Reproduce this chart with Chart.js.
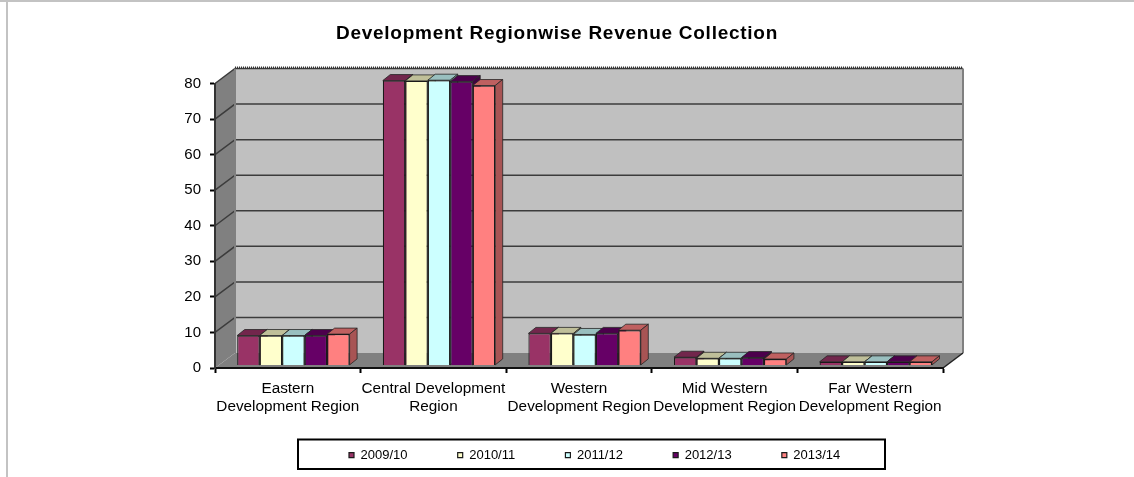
<!DOCTYPE html>
<html><head><meta charset="utf-8">
<style>
html,body{margin:0;padding:0;background:#fff;overflow:hidden}
#page{position:absolute;left:0;top:0;width:1134px;height:477px}
#rt{position:absolute;left:0;top:0;width:1134px;height:2px;background:#c3c3c3}
#rl{position:absolute;left:6px;top:0;width:2px;height:477px;background:#c3c3c3}
canvas{position:absolute;left:0;top:0}
</style>
<script src="https://cdn.jsdelivr.net/npm/chart.js@4"></script>
</head><body>
<div id="page"><div id="rt"></div><div id="rl"></div><canvas id="c" width="1134" height="477"></canvas></div>
<script>
const categories = [["Eastern","Development Region"],["Central Development","Region"],["Western","Development Region"],["Mid Western","Development Region"],["Far Western","Development Region"]];
const seriesNames = ["2009/10","2010/11","2011/12","2012/13","2013/14"];
const s2009 = [8.4,80.1,9.0,2.3,1.0];
const s2010 = [8.4,80.0,9.0,2.0,1.0];
const s2011 = [8.4,80.2,8.7,2.0,1.0];
const s2012 = [8.4,79.8,9.0,2.2,1.0];
const s2013 = [8.8,78.7,9.9,1.8,1.0];
const seriesValues = [s2009,s2010,s2011,s2012,s2013];
const colors = ["#993366","#FFFFCC","#CCFFFF","#660066","#FF8080"];
const yTicks = [0,10,20,30,40,50,60,70,80];

const FONT = "'Liberation Sans', Arial, sans-serif";
const WALL_DX = 20, WALL_DY = -15;   // depth of the 3-D box
const BAR_DX = 7.5, BAR_DY = -6;     // depth of each bar
const SHIFT_X = 5.6, SHIFT_Y = -2.6; // bars stand inside the floor
function shade(hex,f){const n=parseInt(hex.slice(1),16);return `rgb(${(n>>16&255)*f|0},${(n>>8&255)*f|0},${(n&255)*f|0})`;}
function poly(ctx,pts,fill,stroke,lw){ctx.beginPath();pts.forEach((p,i)=>i?ctx.lineTo(p[0],p[1]):ctx.moveTo(p[0],p[1]));ctx.closePath();
  if(fill){ctx.fillStyle=fill;ctx.fill();} if(stroke){ctx.strokeStyle=stroke;ctx.lineWidth=lw||1;ctx.stroke();}}

const box3d = {
  id:'box3d',
  beforeLayout(chart){
    const lg=chart.legend;
    if(!lg._patched){ lg._patched=true;
      const fit=lg.fit.bind(lg);
      lg.fit=function(){fit();this.height=0;};   // legend is placed by hand, takes no layout room
      const t=chart.titleBlock, d=t.draw.bind(t);
      t.draw=function(){const c=chart.ctx;c.save();c.letterSpacing='0.74px';d();c.restore();};
    }
  },
  afterLayout(chart){
    const t=chart.titleBlock; t.left=0; t.right=1114; t.top=22; t.bottom=44.8;
    const l=chart.legend; const pad=l.options.labels.padding;
    l.left=349-pad; l.right=l.left+700; l.top=456.5-pad-7.8; l.bottom=l.top+130;
    l.adjustHitBoxes();
  },
  beforeDraw(chart){
    const {ctx,chartArea:a,scales:{y}}=chart;
    const L=a.left,R=a.right,T=a.top,B=a.bottom,dx=WALL_DX,dy=WALL_DY;
    ctx.save();
    poly(ctx,[[L+dx,T+dy],[R+dx,T+dy],[R+dx,B+dy],[L+dx,B+dy]],'#c0c0c0');
    poly(ctx,[[L,T],[L+dx,T+dy],[L+dx,B+dy],[L,B]],'#808080');
    poly(ctx,[[L,B],[L+dx,B+dy],[R+dx,B+dy],[R,B]],'#808080');
    ctx.strokeStyle='#3c3c3c';ctx.lineWidth=1.5;
    yTicks.forEach(v=>{ if(v===0) return;
      const p=y.getPixelForValue(v);
      ctx.beginPath();ctx.moveTo(L,p);ctx.lineTo(L+dx,p+dy);ctx.lineTo(R+dx,p+dy);ctx.stroke();
    });
    ctx.strokeStyle='#808080';ctx.lineWidth=2;
    ctx.beginPath();ctx.moveTo(L+dx,B+dy);ctx.lineTo(L+dx,T+dy);ctx.moveTo(R+dx,T+dy);ctx.lineTo(R+dx,B+dy);ctx.stroke();
    ctx.strokeStyle='#333';ctx.lineWidth=2;ctx.setLineDash([1,1]);
    ctx.beginPath();ctx.moveTo(L+dx,T+dy-1);ctx.lineTo(R+dx,T+dy-1);ctx.stroke();
    ctx.setLineDash([]);
    ctx.strokeStyle='#222';ctx.lineWidth=1.5;
    ctx.beginPath();ctx.moveTo(R,B);ctx.lineTo(R+dx,B+dy);ctx.stroke();
    ctx.restore();
  },
  beforeDatasetsDraw(chart){
    const ctx=chart.ctx;
    ctx.save();ctx.translate(SHIFT_X,SHIFT_Y);
    for(let d=0;d<chart.data.datasets.length;d++){
      const meta=chart.getDatasetMeta(d),c=colors[d];
      for(const el of meta.data){
        const {x,y,base,width}=el.getProps(['x','y','base','width'],true);
        const l=x-width/2,r=x+width/2;
        poly(ctx,[[l,y],[l+BAR_DX,y+BAR_DY],[r+BAR_DX,y+BAR_DY],[r,y]],shade(c,.75),'#262626',.8);
        poly(ctx,[[r,y],[r+BAR_DX,y+BAR_DY],[r+BAR_DX,base+BAR_DY],[r,base]],shade(c,.66),'#262626',.8);
      }
    }
    ctx.restore();
  },
  beforeDatasetDraw(chart){chart.ctx.save();chart.ctx.translate(SHIFT_X,SHIFT_Y);},
  afterDatasetDraw(chart){chart.ctx.restore();},
  afterDraw(chart){
    const ctx=chart.ctx;
    ctx.save();
    ctx.strokeStyle='#000';ctx.lineWidth=2;
    ctx.strokeRect(298,439.5,587,29.5);
    chart.legend.legendHitBoxes.forEach((h,i)=>{
      const cy=h.top+h.height/2;
      ctx.fillStyle='#111';ctx.fillRect(h.left,cy-4.5,9,9);
      ctx.fillStyle=colors[i];ctx.fillRect(h.left+2,cy-2.5,6,6);
    });
    ctx.restore();
  }
};

new Chart(document.getElementById('c'),{
  type:'bar',
  data:{labels:categories,datasets:seriesNames.map((n,i)=>({
    label:n,data:seriesValues[i],backgroundColor:colors[i],borderColor:'#1a1a1a',borderWidth:1.2,clip:false,
    categoryPercentage:0.772,barPercentage:1
  }))},
  plugins:[box3d],
  options:{
    responsive:false,animation:false,
    layout:{padding:{left:165,right:191,top:60.7,bottom:0}},
    plugins:{
      tooltip:{enabled:false},
      title:{display:true,text:"Development Regionwise Revenue Collection",color:'#000',
        font:{family:FONT,size:19,weight:'bold'},padding:0},
      legend:{display:true,position:'bottom',align:'start',
        labels:{boxWidth:5,boxHeight:5,padding:50.2,color:'#000',font:{family:FONT,size:13}}}
    },
    scales:{
      x:{
        afterFit(s){s.height=109;},
        grid:{drawOnChartArea:false,drawTicks:true,tickLength:5,tickColor:'#000',tickWidth:2},
        border:{display:true,color:'#111',width:2},
        ticks:{color:'#000',padding:6.5,maxRotation:0,autoSkip:false,font:{family:FONT,size:15.3}}
      },
      y:{
        min:0,max:80,
        afterFit(s){s.width=50;},
        grid:{drawOnChartArea:false,drawTicks:true,tickLength:5,tickColor:'#000',tickWidth:2},
        border:{display:true,color:'#333',width:2,dash:[1,1]},
        ticks:{color:'#000',padding:9,stepSize:10,font:{family:FONT,size:15}}
      }
    }
  }
});
</script>
</body></html>
